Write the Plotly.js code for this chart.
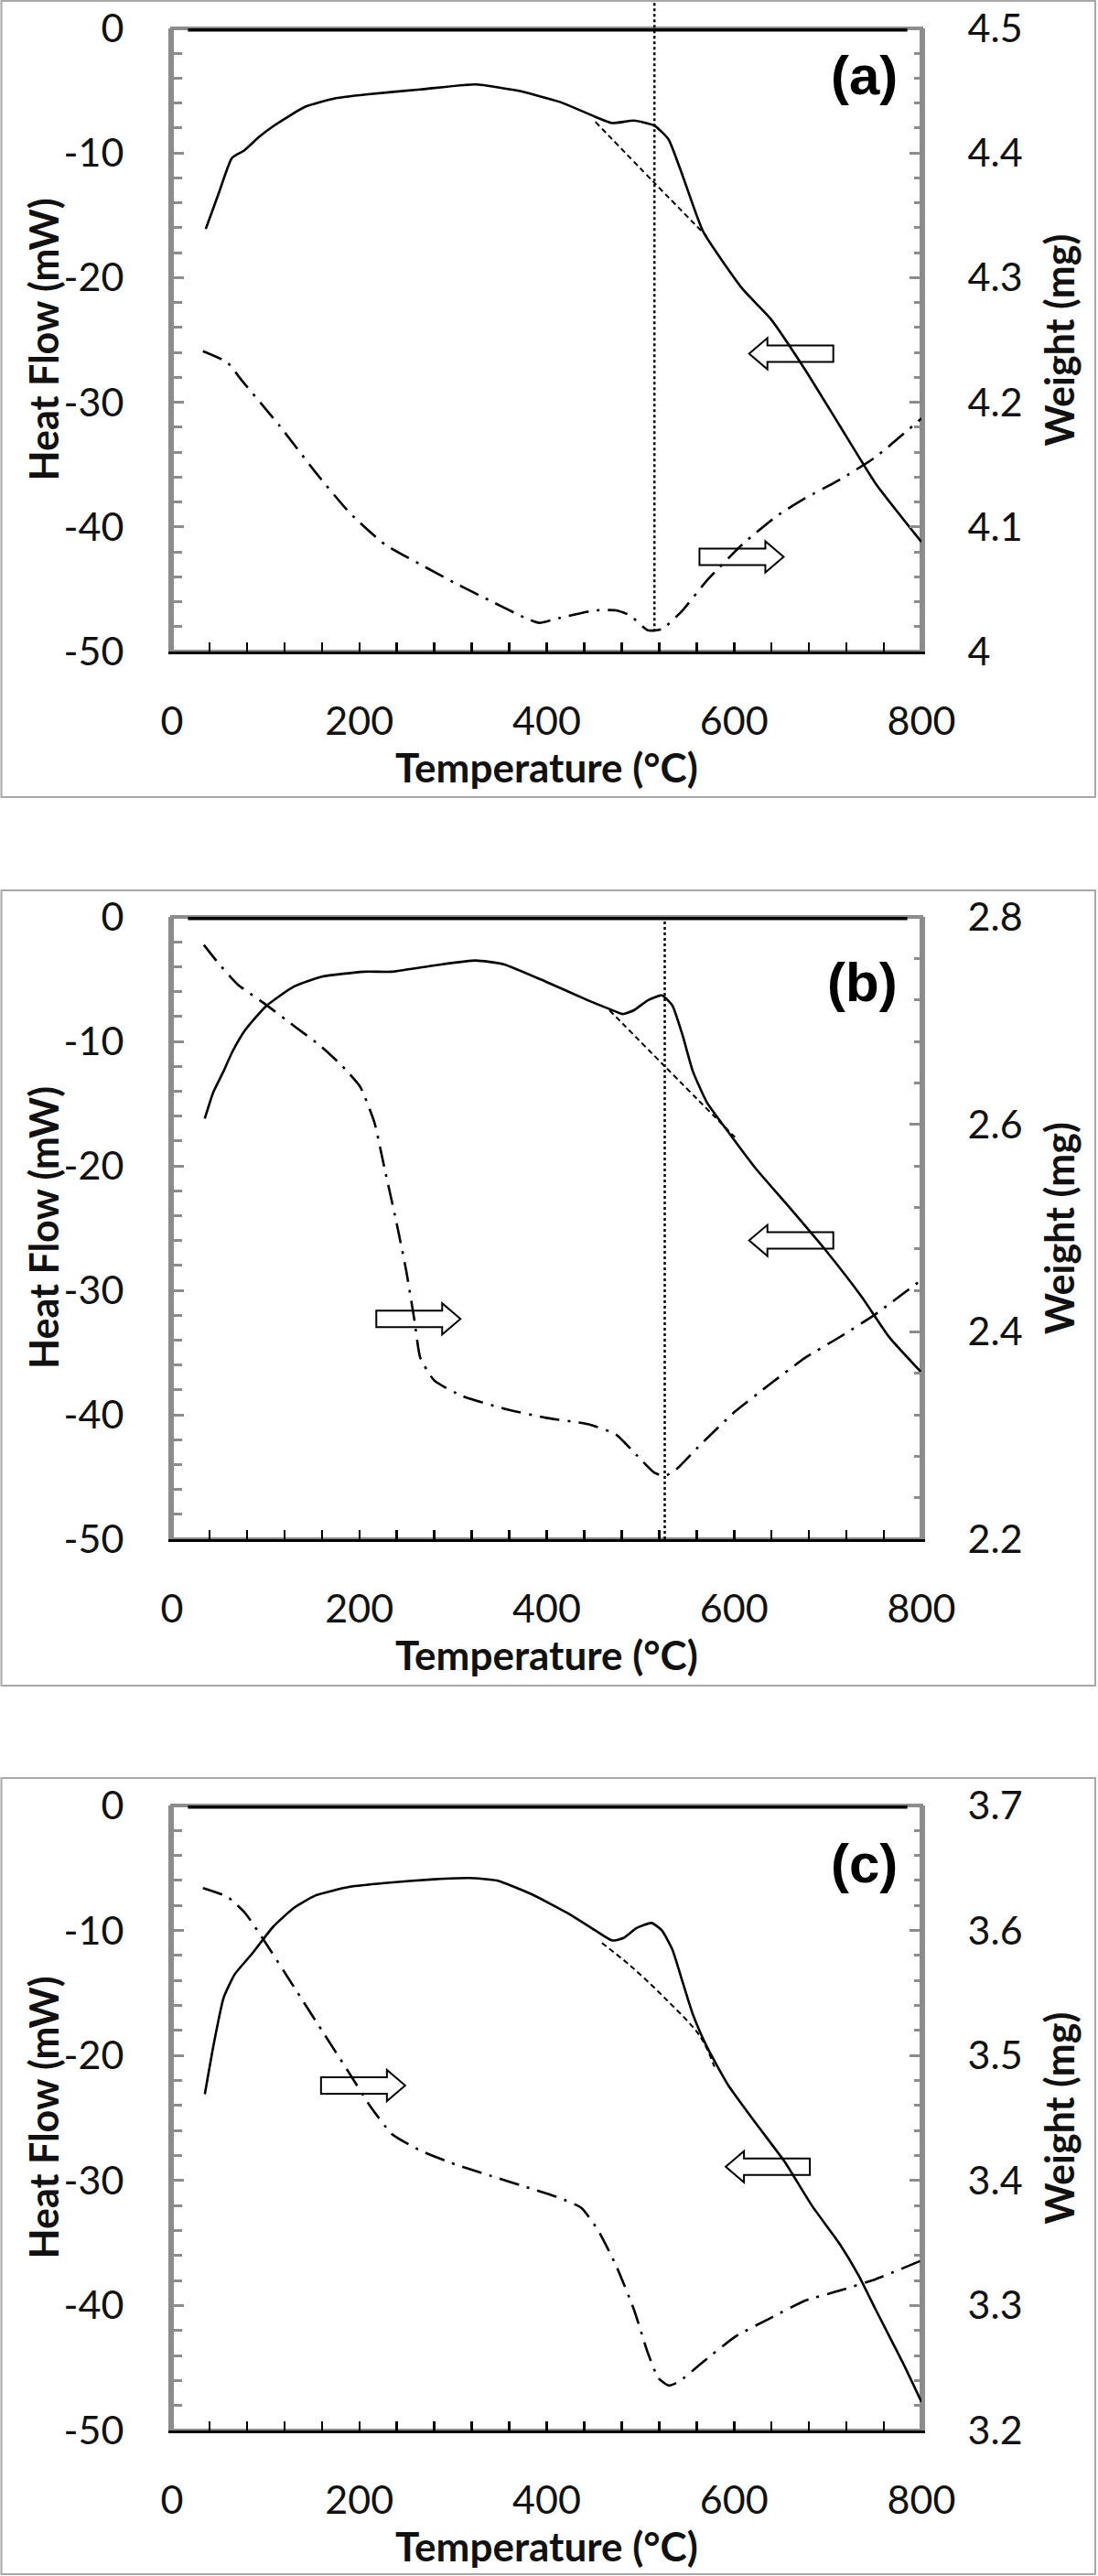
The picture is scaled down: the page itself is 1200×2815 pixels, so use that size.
<!DOCTYPE html>
<html><head><meta charset="utf-8">
<script src="https://cdn.plot.ly/plotly-3.0.1.min.js"></script>
<style>body{margin:0;background:#fff}#chart{width:1200px;height:2815px}</style>
</head><body><div id="chart"></div>
<script>
// ---------- shared ----------
const xTickVals = [0, 200, 400, 600, 800];
const hfTickVals = [-50, -40, -30, -20, -10, 0];
const hfTickText = ['-50', '-40', '-30', '-20', '-10', '0'];
const zeroT = [17, 785];
const zeroHF = [0, 0];
const panelLabels = ['(a)', '(b)', '(c)'];

// ---------- panel (a) ----------
const tHF_A = [36, 50, 64, 77, 93, 109, 142, 175, 207, 265, 324, 369, 414, 452, 470, 493, 515, 530, 545, 567, 609, 639, 676, 713, 751, 800];
const hf_A  = [-16.1, -13.2, -10.4, -9.8, -8.7, -7.8, -6.3, -5.6, -5.3, -4.9, -4.5, -5.0, -5.9, -7.1, -7.6, -7.4, -7.8, -8.9, -11.8, -16.3, -20.9, -23.3, -27.4, -31.9, -36.5, -41.2];
const tW_A = [33, 59, 74, 115, 153, 190, 227, 265, 302, 339, 377, 392, 414, 452, 474, 489, 508, 523, 545, 571, 609, 646, 676, 713, 751, 800];
const w_A  = [4.241, 4.232, 4.218, 4.181, 4.144, 4.111, 4.086, 4.070, 4.055, 4.041, 4.027, 4.023, 4.027, 4.033, 4.033, 4.029, 4.017, 4.018, 4.033, 4.057, 4.086, 4.109, 4.123, 4.138, 4.156, 4.187];
const tBase_A = [452, 515, 571];
const hfBase_A = [-7.5, -12.4, -16.7];
const wRange_A = [4, 4.5];
const eventT_A = 515;
const eventW_A = 4.016;

// ---------- panel (b) ----------
const tHF_B = [35, 44, 55, 64, 78, 100, 130, 160, 205, 235, 280, 324, 354, 399, 444, 467, 481, 493, 508, 523, 534, 545, 556, 571, 594, 623, 661, 698, 736, 766, 800];
const hf_B  = [-16.2, -14.1, -12.4, -10.9, -9.1, -7.2, -5.6, -4.8, -4.4, -4.4, -3.9, -3.5, -3.8, -5.2, -6.7, -7.4, -7.8, -7.5, -6.7, -6.3, -7.1, -9.5, -12.4, -14.9, -17.3, -20.2, -23.5, -26.8, -30.5, -33.8, -36.6];
const tW_B = [34, 49, 70, 101, 130, 158, 182, 201, 216, 227, 239, 250, 259, 265, 280, 310, 354, 399, 444, 474, 496, 515, 526, 538, 564, 601, 639, 676, 713, 751, 800];
const w_B  = [2.773, 2.756, 2.735, 2.715, 2.695, 2.676, 2.656, 2.636, 2.602, 2.557, 2.508, 2.459, 2.410, 2.375, 2.353, 2.338, 2.326, 2.317, 2.311, 2.301, 2.281, 2.264, 2.261, 2.267, 2.291, 2.323, 2.350, 2.375, 2.395, 2.417, 2.450];
const tBase_B = [467, 526, 601];
const hfBase_B = [-7.5, -12.0, -17.7];
const wRange_B = [2.2, 2.8];
const eventT_B = 526;

// ---------- panel (c) ----------
const tHF_C = [35, 44, 55, 67, 85, 108, 130, 153, 190, 227, 280, 317, 347, 384, 422, 452, 470, 482, 496, 512, 523, 534, 545, 556, 571, 594, 624, 654, 683, 713, 733, 751, 781, 800];
const hf_C  = [-23.1, -19.3, -15.4, -13.5, -11.9, -9.7, -8.2, -7.2, -6.5, -6.2, -5.9, -5.8, -6.0, -7.1, -8.6, -10.0, -10.8, -10.6, -9.8, -9.4, -10.0, -11.5, -14.1, -16.7, -19.3, -22.4, -25.5, -28.5, -32.0, -35.1, -37.6, -40.3, -44.7, -47.7];
const tW_C = [33, 59, 78, 100, 130, 160, 190, 212, 235, 265, 302, 339, 377, 414, 437, 455, 474, 493, 508, 519, 530, 541, 564, 601, 639, 676, 713, 751, 800];
const w_C  = [3.634, 3.627, 3.614, 3.590, 3.555, 3.520, 3.485, 3.459, 3.437, 3.424, 3.413, 3.404, 3.395, 3.386, 3.378, 3.360, 3.332, 3.297, 3.262, 3.242, 3.236, 3.239, 3.253, 3.275, 3.290, 3.304, 3.312, 3.321, 3.336];
const tBase_C = [459, 489, 526, 564, 579];
const hfBase_C = [-11.0, -12.8, -15.4, -18.5, -20.9];
const wRange_C = [3.2, 3.7];

// arrow annotations (centre temperature, centre heat flow, direction)
const arrowT_A = [661, 608], arrowHF_A = [-26.1, -42.4], arrowDir_A = [-1, 1];
const arrowT_B = [661, 263], arrowHF_B = [-26.0, -32.3], arrowDir_B = [-1, 1];
const arrowT_C = [636, 204], arrowHF_C = [-28.9, -22.4], arrowDir_C = [-1, 1];

// ---------- layout geometry ----------
const W = 1200, H = 2815;
const plotLeft = 188, plotRight = 1007;
const plotTops = [31, 1002, 1973];
const plotBottoms = [712, 1682, 2656];
const boxTops = [1, 973, 1943];
const boxBottoms = [871, 1842, 2813];
const labelY = [0.925, 0.895, 0.907];

const panels = [
  {tHF: tHF_A, hf: hf_A, tW: tW_A, w: w_A, tb: tBase_A, hb: hfBase_A, wr: wRange_A, wd: 0.1, wm: 0.02,
   ev: {t: eventT_A, w: eventW_A, toTop: true}, aT: arrowT_A, aH: arrowHF_A, aD: arrowDir_A},
  {tHF: tHF_B, hf: hf_B, tW: tW_B, w: w_B, tb: tBase_B, hb: hfBase_B, wr: wRange_B, wd: 0.2, wm: 0.04,
   ev: {t: eventT_B, w: null, toTop: false}, aT: arrowT_B, aH: arrowHF_B, aD: arrowDir_B},
  {tHF: tHF_C, hf: hf_C, tW: tW_C, w: w_C, tb: tBase_C, hb: hfBase_C, wr: wRange_C, wd: 0.1, wm: 0.02,
   ev: null, aT: arrowT_C, aH: arrowHF_C, aD: arrowDir_C}
];

const FONT = 'Lato, "Open Sans", sans-serif';
const gray = '#8c8c8c';
const traces = [];
const layout = {
  width: W, height: H, margin: {l: 0, r: 0, t: 0, b: 0},
  paper_bgcolor: '#fff', plot_bgcolor: '#fff', showlegend: false,
  font: {family: FONT, color: '#111'},
  shapes: [], annotations: []
};

function arrowPath(dir) {
  const L = 46, hl = 20, hh = 17, sh = 9;
  const p = [[-L, 0], [-L + hl, hh], [-L + hl, sh], [L, sh], [L, -sh], [-L + hl, -sh], [-L + hl, -hh]];
  return 'M' + p.map(([x, y]) => (x * -dir) + ',' + y).join(' L') + ' Z';
}

panels.forEach((p, i) => {
  const n = i + 1;
  const xId = n === 1 ? 'x' : 'x' + n;
  const yL = 2 * n - 1, yR = 2 * n;
  const yLId = yL === 1 ? 'y' : 'y' + yL;
  const yRId = 'y' + yR;
  const dom = [1 - plotBottoms[i] / H, 1 - plotTops[i] / H];
  const plotH = plotBottoms[i] - plotTops[i];

  layout[n === 1 ? 'xaxis' : 'xaxis' + n] = {
    domain: [plotLeft / W, plotRight / W], anchor: yLId, range: [0, 800],
    tickvals: xTickVals, ticks: 'inside', ticklen: 10, tickwidth: 2.5, tickcolor: '#000',
    minor: {dtick: 40, tick0: 0, ticks: 'inside', ticklen: 10, tickwidth: 2.5, tickcolor: '#000'},
    showline: true, linecolor: '#000', linewidth: 3, showgrid: false, zeroline: false,
    tickfont: {size: 43, family: FONT, color: '#111'}, ticklabelstandoff: 36, fixedrange: true
  };
  layout[yL === 1 ? 'yaxis' : 'yaxis' + yL] = {
    domain: dom, anchor: xId, range: [-50, 0], tickvals: hfTickVals, ticktext: hfTickText,
    ticks: 'inside', ticklen: 13, tickwidth: 3, tickcolor: gray,
    minor: {dtick: 2, tick0: 0, ticks: 'inside', ticklen: 11, tickwidth: 3, tickcolor: gray},
    showline: true, linecolor: gray, linewidth: 4, showgrid: false, zeroline: false,
    tickfont: {size: 43, family: FONT, color: '#111'}, ticklabelstandoff: 40, fixedrange: true
  };
  layout['yaxis' + yR] = {
    overlaying: yLId, side: 'right', anchor: xId, range: p.wr, dtick: p.wd, tick0: p.wr[0],
    ticks: 'inside', ticklen: 13, tickwidth: 3, tickcolor: gray,
    minor: {dtick: p.wm, tick0: p.wr[0], ticks: 'inside', ticklen: 8, tickwidth: 3, tickcolor: gray},
    showline: true, linecolor: gray, linewidth: 4, showgrid: false, zeroline: false,
    tickfont: {size: 43, family: FONT, color: '#111'}, ticklabelstandoff: 38, fixedrange: true
  };

  // zero line series at top
  traces.push({x: zeroT, y: zeroHF, xaxis: xId, yaxis: yLId, mode: 'lines',
    line: {color: '#000', width: 7}, hoverinfo: 'skip'});
  // heat flow
  traces.push({x: p.tHF, y: p.hf, xaxis: xId, yaxis: yLId, mode: 'lines',
    line: {color: '#000', width: 2.6, shape: 'spline', smoothing: 0.5}, name: 'Heat Flow'});
  // baseline
  traces.push({x: p.tb, y: p.hb, xaxis: xId, yaxis: yLId, mode: 'lines',
    line: {color: '#000', width: 2, dash: '6px,4px', shape: 'spline'}, name: 'Baseline'});
  // weight
  traces.push({x: p.tW, y: p.w, xaxis: xId, yaxis: yRId, mode: 'lines',
    line: {color: '#000', width: 2.6, dash: '22px,9px,3px,9px', shape: 'spline', smoothing: 0.5}, name: 'Weight'});

  // plot-area gray border
  layout.shapes.push({type: 'rect', xref: xId + ' domain', yref: yLId + ' domain', x0: 0, x1: 1, y0: 0, y1: 1,
    line: {color: gray, width: 4}, layer: 'below'});
  // panel box
  layout.shapes.push({type: 'rect', xref: 'paper', yref: 'paper', x0: 1.5 / W, x1: 1197 / W,
    y0: 1 - boxBottoms[i] / H, y1: 1 - boxTops[i] / H, line: {color: '#a8a8a8', width: 2}, layer: 'below'});

  // event dotted line
  if (p.ev) {
    const y0 = p.ev.w === null ? 0 : (p.ev.w - p.wr[0]) / (p.wr[1] - p.wr[0]);
    const y1 = p.ev.toTop ? 1 + (plotTops[i] - boxTops[i]) / plotH : 1;
    layout.shapes.push({type: 'line', xref: xId, yref: yRId + ' domain', x0: p.ev.t, x1: p.ev.t, y0: y0, y1: y1,
      line: {color: '#000', width: 2.5, dash: '3px,3px'}, layer: 'above'});
  }

  // arrows
  p.aT.forEach((t, k) => {
    layout.shapes.push({type: 'path', xref: xId, yref: yLId, xsizemode: 'pixel', ysizemode: 'pixel',
      xanchor: t, yanchor: p.aH[k], path: arrowPath(p.aD[k]),
      line: {color: '#000', width: 2}, fillcolor: '#fff', layer: 'below'});
  });

  // panel label
  layout.annotations.push({text: '<b>' + panelLabels[i] + '</b>', xref: xId + ' domain', yref: yLId + ' domain',
    x: 0.971, y: labelY[i], xanchor: 'right', yanchor: 'middle', showarrow: false,
    font: {family: '"Liberation Sans", Arial, sans-serif', size: 60, color: '#000'}});
  // axis titles
  layout.annotations.push({text: '<b>Heat Flow (mW)</b>', xref: 'paper', yref: yLId + ' domain',
    x: 47 / W, y: 0.5, xanchor: 'center', yanchor: 'middle', textangle: -90, showarrow: false,
    font: {family: FONT, size: 43, color: '#111'}});
  layout.annotations.push({text: '<b>Weight (mg)</b>', xref: 'paper', yref: yLId + ' domain',
    x: 1157 / W, y: 0.5, xanchor: 'center', yanchor: 'middle', textangle: -90, showarrow: false,
    font: {family: FONT, size: 43, color: '#111'}});
  layout.annotations.push({text: '<b>Temperature (°C)</b>', xref: xId + ' domain', yref: yLId + ' domain',
    x: 0.5, y: -126 / plotH, xanchor: 'center', yanchor: 'middle', showarrow: false,
    font: {family: FONT, size: 44, color: '#111'}});
});

Plotly.newPlot('chart', traces, layout, {staticPlot: true, displayModeBar: false});
</script></body></html>
